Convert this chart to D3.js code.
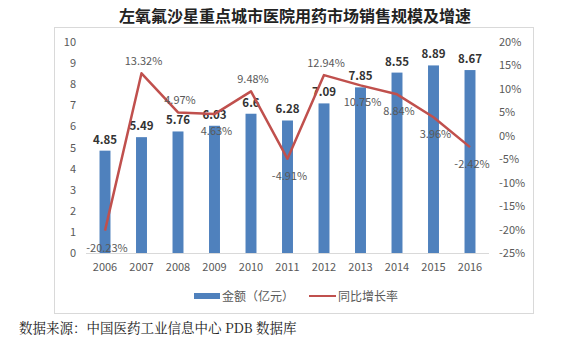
<!DOCTYPE html>
<html><head><meta charset="utf-8">
<script src="https://cdn.jsdelivr.net/npm/d3@7"></script>
<style>body{margin:0;background:#fff;}svg{display:block;}</style>
</head><body>
<svg id="c" width="564" height="342"></svg>
<script>
const years = ["2006","2007","2008","2009","2010","2011","2012","2013","2014","2015","2016"];
const sales = [4.85,5.49,5.76,6.03,6.6,6.28,7.09,7.85,8.55,8.89,8.67];
const growth = [-20.23,13.32,4.97,4.63,9.48,-4.91,12.94,10.75,8.84,3.96,-2.42];
const growthLabelPlacement = ["below","above","above","below","above","below","above","below","below","below","below"];
const leftTicks = [0,1,2,3,4,5,6,7,8,9,10];
const rightTicks = [20,15,10,5,0,-5,-10,-15,-20,-25];
const title = "左氧氟沙星重点城市医院用药市场销售规模及增速";
const legendLabels = ["金额（亿元）","同比增长率"];
const source = "数据来源：中国医药工业信息中心 PDB 数据库";

const svg = d3.select("#c");
const font = "'Noto Sans CJK SC','Noto Sans',sans-serif";
const barColor = "#4F81BD", lineColor = "#C0504D";

svg.append("rect").attr("x",54.5).attr("y",27.5).attr("width",479).attr("height",286)
  .attr("fill","#fff").attr("stroke","#d9d9d9").attr("stroke-width",1);

svg.append("text").attr("x",295).attr("y",22).attr("text-anchor","middle")
  .attr("font-family",font).attr("font-weight","bold").attr("font-size",16)
  .attr("fill","#222").text(title);

const x = d3.scaleBand().domain(years).range([86.75,488.25]).paddingInner(0.7).paddingOuter(0.35);
const xc = d => x(d) + x.bandwidth()/2;
const yL = d3.scaleLinear().domain([0,10]).range([253,42]);
const yR = d3.scaleLinear().domain([-25,20]).range([253,42]);

svg.append("line").attr("x1",86).attr("x2",489).attr("y1",253.5).attr("y2",253.5)
  .attr("stroke","#d9d9d9").attr("stroke-width",1);

const gL = svg.append("g").attr("transform","translate(76,0)")
  .call(d3.axisLeft(yL).tickValues(leftTicks).tickSize(0).tickPadding(0).tickFormat(d3.format("d")));
gL.select(".domain").remove();
gL.selectAll("text").attr("font-family",font).attr("font-size",11).attr("fill","#595959");

const gR = svg.append("g").attr("transform","translate(499,0)")
  .call(d3.axisRight(yR).tickValues(rightTicks).tickSize(0).tickPadding(0).tickFormat(d=>d+"%"));
gR.select(".domain").remove();
gR.selectAll("text").attr("font-family",font).attr("font-size",11).attr("fill","#595959");

const gX = svg.append("g").attr("transform","translate(0,263)")
  .call(d3.axisBottom(x).tickSize(0).tickPadding(0));
gX.select(".domain").remove();
gX.selectAll("text").attr("font-family",font).attr("font-size",11).attr("fill","#595959");

svg.append("g").selectAll("rect").data(sales).join("rect")
  .attr("x",(d,i)=>x(years[i])).attr("width",x.bandwidth())
  .attr("y",d=>yL(d)).attr("height",d=>yL(0)-yL(d)).attr("fill",barColor);

svg.append("g").selectAll("text").data(sales).join("text")
  .attr("x",(d,i)=>xc(years[i])).attr("y",d=>yL(d)-7)
  .attr("text-anchor","middle").attr("font-family",font).attr("font-weight","bold")
  .attr("font-size",11.5).attr("fill","#333").text(d=>d);

const line = d3.line().x((d,i)=>xc(years[i])).y(d=>yR(d));
svg.append("path").datum(growth).attr("d",line).attr("fill","none")
  .attr("stroke",lineColor).attr("stroke-width",2.5).attr("stroke-linejoin","round");

svg.append("g").selectAll("text").data(growth).join("text")
  .attr("x",(d,i)=>xc(years[i])+2)
  .attr("y",(d,i)=>yR(d)+(growthLabelPlacement[i]==="above"?-8:21))
  .attr("text-anchor","middle").attr("font-family",font)
  .attr("font-size",11).attr("fill","#595959").text(d=>d.toFixed(2)+"%");

const lg = svg.append("g");
lg.append("rect").attr("x",194).attr("y",293).attr("width",26).attr("height",6).attr("fill",barColor);
lg.append("text").attr("x",222).attr("y",300.5).attr("font-family",font).attr("font-size",12)
  .attr("fill","#595959").text(legendLabels[0]);
lg.append("line").attr("x1",309).attr("x2",336).attr("y1",296).attr("y2",296)
  .attr("stroke",lineColor).attr("stroke-width",2);
lg.append("text").attr("x",338).attr("y",300.5).attr("font-family",font).attr("font-size",12)
  .attr("fill","#595959").text(legendLabels[1]);

svg.append("text").attr("x",19).attr("y",333).attr("font-family","'Noto Serif CJK SC','Noto Sans CJK SC',serif")
  .attr("font-size",13.5).attr("fill","#222").text(source);
</script>
</body></html>
